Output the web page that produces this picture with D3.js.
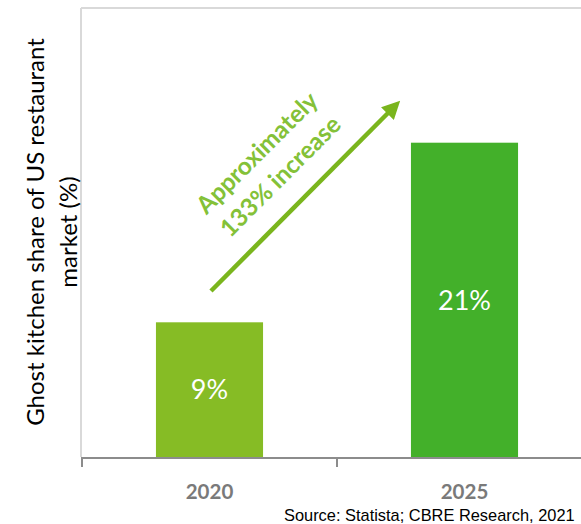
<!DOCTYPE html>
<html>
<head>
<meta charset="utf-8">
<script src="https://cdn.jsdelivr.net/npm/d3@7"></script>
<style>
  html, body { margin: 0; padding: 0; background: #fff; }
  svg { display: block; }
</style>
</head>
<body>
<svg id="chart" width="581" height="524"></svg>
<script>
// Ghost kitchen share of the US restaurant market
const categories = ["2020", "2025"];
const shares = [9, 21];
const shareLabels = ["9%", "21%"];
const barColors = ["#86bc25", "#43b02a"];
const yTitleLines = ["Ghost kitchen share of US restaurant", "market (%)"];
const noteLines = ["Approximately", "133% increase"];
const sourceText = "Source: Statista; CBRE Research, 2021";

const svg = d3.select("#chart");
const W = 581, H = 524;
const plot = { left: 82, top: 8, bottom: 457, right: 592 };

const x = d3.scaleBand()
  .domain(categories)
  .range([plot.left, plot.right])
  .paddingInner(0)
  .paddingOuter(0);

const y = d3.scaleLinear()
  .domain([0, 30])
  .range([plot.bottom, plot.top]);

const barFrac = 0.42;
const barW = x.bandwidth() * barFrac;
const barX = c => x(c) + (x.bandwidth() - barW) / 2;

// plot-area frame (top and left edges)
svg.append("line")
  .attr("x1", plot.left - 1).attr("x2", W)
  .attr("y1", plot.top).attr("y2", plot.top)
  .attr("stroke", "#d9d9d9").attr("stroke-width", 2);
svg.append("line")
  .attr("x1", plot.left - 1).attr("x2", plot.left - 1)
  .attr("y1", plot.top).attr("y2", plot.bottom)
  .attr("stroke", "#d9d9d9").attr("stroke-width", 2);

// bars
const rows = categories.map((c, i) => ({ c, v: shares[i], label: shareLabels[i], color: barColors[i] }));

svg.append("g").selectAll("rect")
  .data(rows)
  .join("rect")
  .attr("x", d => barX(d.c))
  .attr("y", d => y(d.v))
  .attr("width", barW)
  .attr("height", d => y(0) - y(d.v))
  .attr("fill", d => d.color);

// value labels centred in the bars
svg.append("g").selectAll("text")
  .data(rows)
  .join("text")
  .attr("x", d => x(d.c) + x.bandwidth() / 2)
  .attr("y", d => (y(d.v) + y(0)) / 2)
  .attr("dy", "0.36em")
  .attr("text-anchor", "middle")
  .attr("font-family", "Lato, 'Open Sans', sans-serif")
  .attr("font-size", 27)
  .attr("fill", "#ffffff")
  .text(d => d.label);

// category axis: baseline with ticks at band boundaries
svg.append("line")
  .attr("x1", plot.left - 1).attr("x2", W)
  .attr("y1", y(0) + 1).attr("y2", y(0) + 1)
  .attr("stroke", "#8c8c8c").attr("stroke-width", 2);

svg.append("g").selectAll("line")
  .data(categories)
  .join("line")
  .attr("x1", d => x(d)).attr("x2", d => x(d))
  .attr("y1", y(0)).attr("y2", y(0) + 10)
  .attr("stroke", "#8c8c8c").attr("stroke-width", 2);

svg.append("g").selectAll("text")
  .data(categories)
  .join("text")
  .attr("x", d => x(d) + x.bandwidth() / 2)
  .attr("y", 499)
  .attr("text-anchor", "middle")
  .attr("font-family", "Lato, 'Open Sans', sans-serif")
  .attr("font-weight", "bold")
  .attr("font-size", 20.5)
  .attr("fill", "#7a7a7a")
  .text(d => d);

// y-axis title, two rotated lines
const yTitle = svg.append("text")
  .attr("transform", "translate(44,232) rotate(-90)")
  .attr("text-anchor", "middle")
  .attr("font-family", "Lato, 'Open Sans', sans-serif")
  .attr("font-size", 24)
  .attr("fill", "#000");
yTitle.selectAll("tspan")
  .data(yTitleLines)
  .join("tspan")
  .attr("x", 0)
  .attr("dy", (d, i) => i === 0 ? 0 : 33)
  .text(d => d);

// growth arrow between the two bars
const arrowColor = "#7ab51d";
svg.append("defs").append("marker")
  .attr("id", "arrowhead")
  .attr("viewBox", "0 0 10 10")
  .attr("refX", 2).attr("refY", 5)
  .attr("markerWidth", 4).attr("markerHeight", 4)
  .attr("markerUnits", "strokeWidth")
  .attr("orient", "auto")
  .append("path")
  .attr("d", "M0,0 L10,5 L0,10 Z")
  .attr("fill", arrowColor);

svg.append("line")
  .attr("x1", 211).attr("y1", 291)
  .attr("x2", 390).attr("y2", 111)
  .attr("stroke", arrowColor)
  .attr("stroke-width", 4.5)
  .attr("marker-end", "url(#arrowhead)");

// annotation text along the arrow
const note = svg.append("text")
  .attr("transform", "translate(263,159) rotate(-45)")
  .attr("text-anchor", "middle")
  .attr("font-family", "Lato, 'Open Sans', sans-serif")
  .attr("font-weight", "bold")
  .attr("font-size", 24.5)
  .attr("fill", "#84c138");
note.selectAll("tspan")
  .data(noteLines)
  .join("tspan")
  .attr("x", 0)
  .attr("dy", (d, i) => i === 0 ? 0 : 33)
  .text(d => d);

// source line
svg.append("text")
  .attr("x", 284)
  .attr("y", 521)
  .attr("font-family", "'Liberation Sans', Arial, sans-serif")
  .attr("font-size", 16.4)
  .attr("fill", "#000")
  .text(sourceText);
</script>
</body>
</html>
